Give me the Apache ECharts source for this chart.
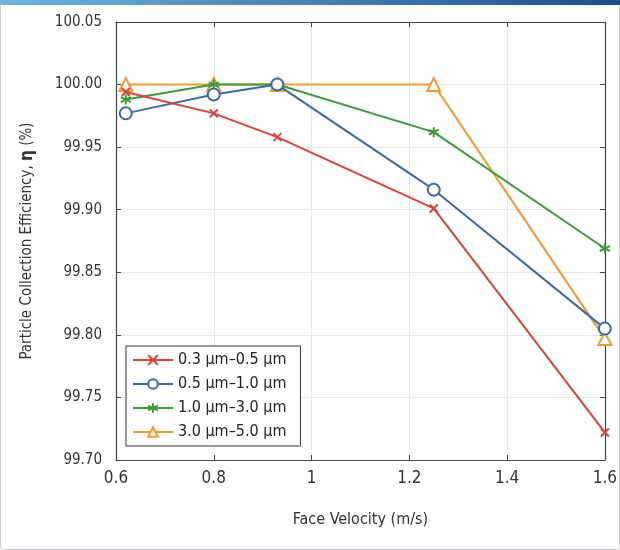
<!DOCTYPE html>
<html>
<head>
<meta charset="utf-8">
<script src="https://cdn.jsdelivr.net/npm/echarts@6/dist/echarts.min.js"></script>
<style>
html,body{margin:0;padding:0;background:#fff;}
#c{width:620px;height:550px;}
</style>
</head>
<body>
<div id="c"></div>
<script>
const velocities = [0.62, 0.8, 0.93, 1.25, 1.6];
const seriesNames = ['0.3 μm\u20130.5 μm', '0.5 μm\u20131.0 μm', '1.0 μm\u20133.0 μm', '3.0 μm\u20135.0 μm'];
const eff_03_05 = [99.994, 99.977, 99.958, 99.901, 99.722];
const eff_05_10 = [99.977, 99.992, 100.000, 99.916, 99.805];
const eff_10_30 = [99.988, 100.000, 100.000, 99.962, 99.869];
const eff_30_50 = [100.000, 100.000, 100.000, 100.000, 99.797];
const xTicks = [0.6, 0.8, 1, 1.2, 1.4, 1.6];
const yTicks = [99.70, 99.75, 99.80, 99.85, 99.90, 99.95, 100.00, 100.05];

const FONT = "'Liberation Sans Narrow', 'DejaVu Sans Condensed', 'Roboto Condensed', sans-serif";
const colors = ['#d8433a', '#3b6b9e', '#3f9a3a', '#f29a30'];
const symbols = [
  'path://M0,0L10,10M10,0L0,10',
  'circle',
  'path://M5,0L5,10M0.7,2.5L9.3,7.5M9.3,2.5L0.7,7.5',
  'triangle'
];
const sizes = [8, 12, 10, 13];
const allData = [eff_03_05, eff_05_10, eff_10_30, eff_30_50];

const series = allData.map((d, i) => ({
  name: seriesNames[i],
  type: 'line',
  data: velocities.map((v, j) => [v, d[j]]),
  symbol: symbols[i],
  symbolSize: sizes[i],
  showSymbol: true,
  lineStyle: {color: colors[i], width: 2},
  itemStyle: {color: (i === 1 || i === 3) ? '#ffffff' : colors[i], borderColor: colors[i], borderWidth: 2},
  emphasis: {disabled: true},
  z: 2 + (3 - i)
}));

const chart = echarts.init(document.getElementById('c'), null, {renderer: 'canvas'});
const axisLine = {show: true, lineStyle: {color: '#444', width: 1.2}};
chart.setOption({
  animation: false,
  backgroundColor: '#fff',
  textStyle: {fontFamily: FONT},
  graphic: [
    {type: 'rect', shape: {x: 0.5, y: 0.5, width: 619, height: 549, r: 3}, style: {fill: 'none', stroke: '#c8ccd2', lineWidth: 1}, z: -10},
    {type: 'rect', shape: {x: 0, y: 0, width: 620, height: 5}, style: {fill: new echarts.graphic.LinearGradient(0, 0, 1, 0, [{offset: 0, color: '#6fb4e0'}, {offset: 1, color: '#1b4f8a'}])}, z: -10}
  ],
  grid: {left: 116, right: 9, top: 22, bottom: 90, show: false},
  legend: {
    orient: 'vertical',
    left: 126,
    top: 346,
    padding: [6, 14, 6, 6],
    itemGap: 8,
    itemWidth: 40,
    itemHeight: 12,
    backgroundColor: '#fff',
    borderColor: '#333',
    borderWidth: 1,
    borderRadius: 0,
    textStyle: {fontFamily: FONT, fontSize: 16, color: '#222'},
    data: seriesNames
  },
  xAxis: [{
    type: 'value', min: 0.6, max: 1.6, interval: 0.2,
    name: 'Face Velocity (m/s)', nameLocation: 'middle', nameGap: 52,
    nameTextStyle: {fontFamily: FONT, fontSize: 16, color: '#333'},
    axisLine: axisLine,
    axisTick: {show: true, inside: true, length: 5, lineStyle: {color: '#444'}},
    axisLabel: {fontFamily: FONT, fontSize: 17, color: '#333', margin: 10,
      formatter: v => String(parseFloat(v.toFixed(1)))},
    splitLine: {show: true, lineStyle: {color: '#e8e8e8', width: 1}}
  }, {
    type: 'value', min: 0.6, max: 1.6, interval: 0.2, position: 'top',
    axisLine: axisLine,
    axisTick: {show: true, inside: true, length: 5, lineStyle: {color: '#444'}},
    axisLabel: {show: false}, splitLine: {show: false}
  }],
  yAxis: [{
    type: 'value', min: 99.70, max: 100.05, interval: 0.05,
    name: 'Particle Collection Efficiency, {b|η} (%)', nameLocation: 'middle', nameGap: 80,
    nameTextStyle: {fontFamily: FONT, fontSize: 15, color: '#333', rich: {b: {fontFamily: FONT, fontSize: 17, fontWeight: 'bold', color: '#333'}}},
    axisLine: axisLine,
    axisTick: {show: true, inside: true, length: 5, lineStyle: {color: '#444'}},
    axisLabel: {fontFamily: FONT, fontSize: 15, color: '#333', margin: 14,
      formatter: v => v.toFixed(2)},
    splitLine: {show: true, lineStyle: {color: '#e8e8e8', width: 1}}
  }, {
    type: 'value', min: 99.70, max: 100.05, interval: 0.05, position: 'right',
    axisLine: axisLine,
    axisTick: {show: true, inside: true, length: 5, lineStyle: {color: '#444'}},
    axisLabel: {show: false}, splitLine: {show: false}
  }],
  series: series
});
</script>
</body>
</html>
